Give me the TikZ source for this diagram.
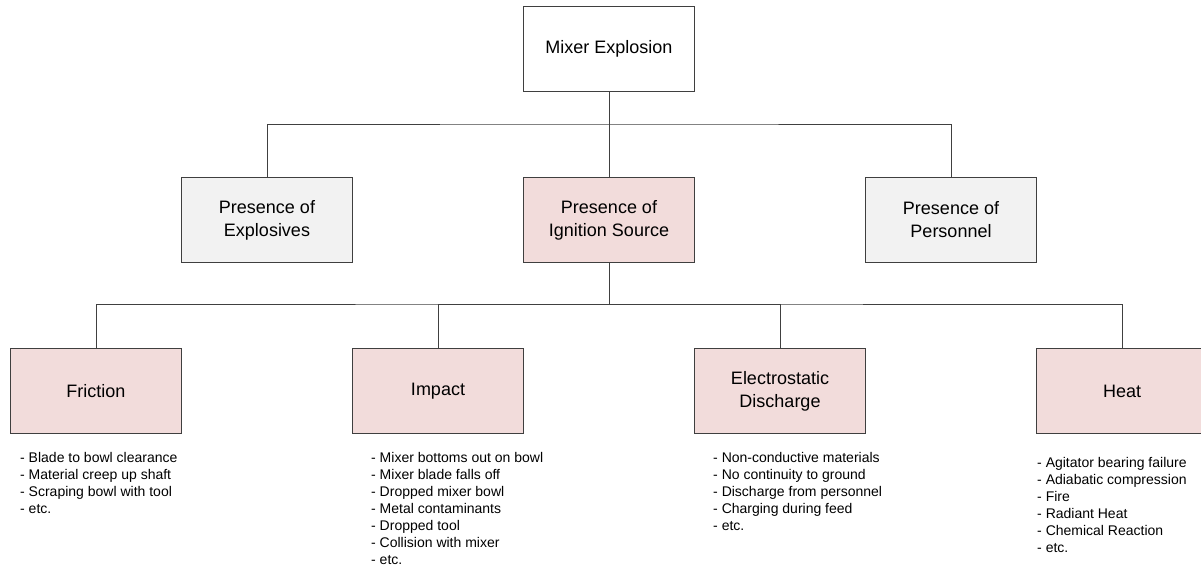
\documentclass[tikz,border=0pt]{standalone}
\usepackage{fontspec}
\setmainfont{Liberation Sans}
\usepackage{tikz}
\usetikzlibrary{positioning}

\definecolor{boxline}{HTML}{3F3F3F}
\definecolor{greyfill}{HTML}{F2F2F2}
\definecolor{pinkfill}{HTML}{F2DCDB}
\definecolor{linkline}{HTML}{404040}

\tikzset{
  event/.style={draw=boxline, line width=0.8pt, minimum width=171pt, minimum height=85pt,
    inner sep=2pt, align=center, font=\fontsize{18}{23}\selectfont},
  topevent/.style={event, fill=white},
  factor/.style={event, fill=greyfill},
  cause/.style={event, fill=pinkfill},
  causelist/.style={anchor=north west, inner sep=0pt, align=left,
    font=\fontsize{14}{17}\selectfont},
  link/.style={draw=linkline, line width=0.9pt}
}

\begin{document}
\begin{tikzpicture}[x=1pt,y=-1pt]
\useasboundingbox (0,0) rectangle (1201,567);

%% Top event
\node[topevent] (mixer) at (609,49) {Mixer Explosion};

%% Conditions
\node[factor] (explosives) at (267,220) {Presence of\\Explosives};
\node[cause]  (ignition)   at (609,220) {Presence of\\Ignition Source};
\node[factor] (personnel)  at (951,220) {Presence of\\Personnel};

% bus to conditions
\coordinate (busA) at (609,124);
\draw[link] (mixer) -- (busA);
\draw[link] (explosives.north) |- (busA) -| (personnel.north);
\draw[link] (busA) -- (ignition);

%% Ignition sources
\node[cause] (friction) at (96,391)   {Friction};
\node[cause] (impact)   at (438,391)  {Impact};
\node[cause] (esd)      at (780,391)  {Electrostatic\\Discharge};
\node[cause] (heat)     at (1122,391) {Heat};

% bus to sources
\coordinate (busB) at (609,304);
\draw[link] (ignition) -- (busB);
\draw[link] (friction.north) |- (busB) -| (heat.north);
\draw[link] (impact.north) |- (busB);
\draw[link] (esd.north) |- (busB);

%% Causes under each source
\node[causelist] (frictionlist) at (20,452) {- Blade to bowl clearance\\- Material creep up shaft\\- Scraping bowl with tool\\- etc.};
\node[causelist] (impactlist) at (371,452) {- Mixer bottoms out on bowl\\- Mixer blade falls off\\- Dropped mixer bowl\\- Metal contaminants\\- Dropped tool\\- Collision with mixer\\- etc.};
\node[causelist] (esdlist) at (713,452) {- Non-conductive materials\\- No continuity to ground\\- Discharge from personnel\\- Charging during feed\\- etc.};
\node[causelist] (heatlist) at (1037,457) {- Agitator bearing failure\\- Adiabatic compression\\- Fire\\- Radiant Heat\\- Chemical Reaction\\- etc.};

\end{tikzpicture}
\end{document}
